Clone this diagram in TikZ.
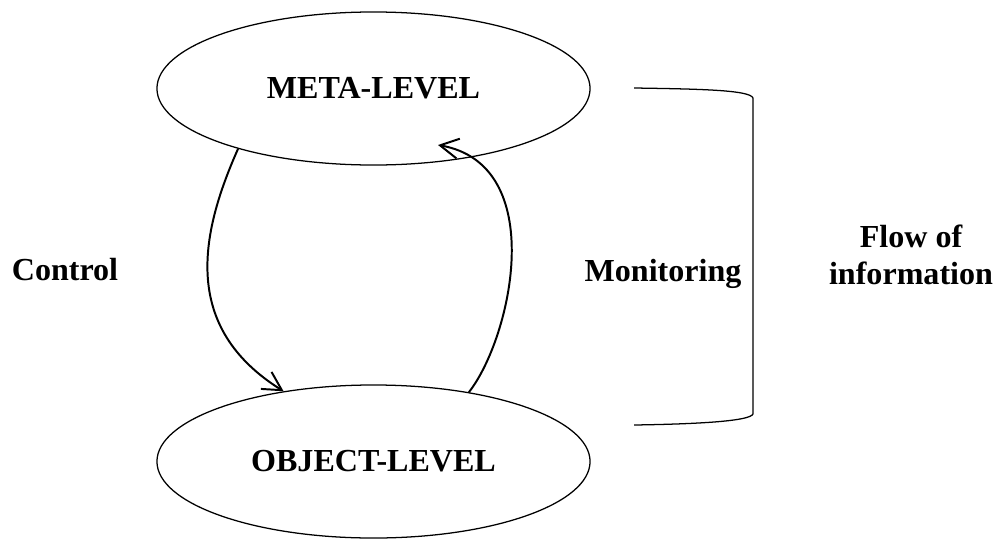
\documentclass[tikz,border=0pt]{standalone}
\usepackage{fontspec}
\setmainfont{Liberation Serif}
\usetikzlibrary{arrows.meta, shapes.geometric}
\tikzset{> = { Straight Barb[length = 4.6mm, width = 5mm] }}

\begin{document}
\begin{tikzpicture}[x = 0.025cm, y = 0.025cm, level/.style = { draw, ellipse, line width = 0.9pt, minimum width = 10.825cm, minimum height = 3.825cm, inner sep = 0pt, font = \fontsize{22.8}{27}\selectfont\bfseries }, sidetext/.style = { inner sep = 0pt, font = \fontsize{22.8}{26.2}\selectfont\bfseries }, flow/.style = { ->, line width = 1.4pt }]
				\useasboundingbox (0,0) rectangle (998,-540);

				\node [level] (meta) at (373.5,-88.5) {META-LEVEL};
				\node [level] (object) at (373.5,-461.5) {OBJECT-LEVEL};

				\node [sidetext, anchor = base] (control) at (65,-280) {Control};
				\node [sidetext, anchor = base] (monitoring) at (663,-281.5) {Monitoring};
				\node [sidetext, align = center] (info) at (911,-255) {Flow of\\information};

				\coordinate (mtip) at (438,-145);

				\draw [flow] (meta.204) .. controls +(-114:95) and +(148:120) .. (object.142);
				\draw [flow] (object.36) .. controls +(52:70) and +(-10:113) .. (mtip);

				\draw [line width = 0.9pt] (634,-88) .. controls (700,-89) and (750,-90) .. (753,-98) -- (753,-414) .. controls (750,-421) and (700,-424) .. (634,-425);
			\end{tikzpicture}
\end{document}
